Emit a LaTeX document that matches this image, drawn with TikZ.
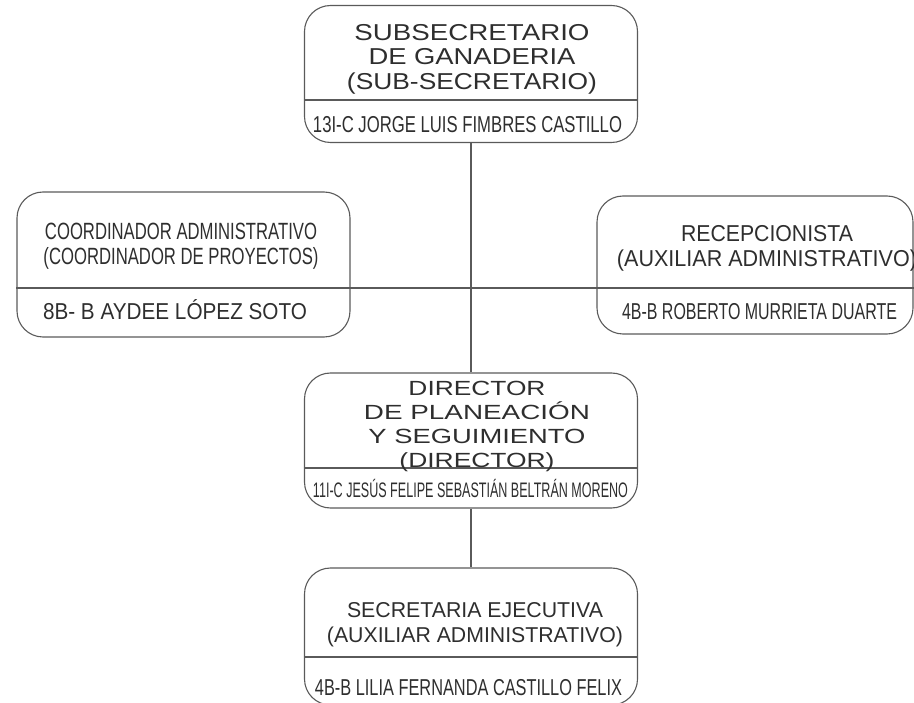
\documentclass[tikz,border=0pt]{standalone}
\usepackage{fontspec}
\setmainfont{Liberation Sans}
\usepackage{graphicx}
\usepackage{xcolor}
\usetikzlibrary{positioning}
\definecolor{linegray}{HTML}{5A5A5A}
\definecolor{inkgray}{HTML}{2E2E2E}
\newcommand{\fitto}[2]{\resizebox{#1pt}{\height}{#2}}
\tikzset{
	persona/.style = {
		anchor=base, inner sep=0pt, text=inkgray,
		font=\fontsize{23}{23}\selectfont
	}
}

\begin{document}
\begin{tikzpicture}[
		x=1pt, y=-1pt,
        box/.style = {draw=linegray, line width=1.1pt, rounded corners=26pt,
            minimum width=333pt, minimum height=137pt, inner sep=0pt},
        cargo/.style = {align=center, inner sep=0pt, text=inkgray,
            font=\fontsize{23}{24.5}\selectfont},
        edge/.style = {draw=linegray, line width=1.1pt}
    ]
    \useasboundingbox (0,0) rectangle (914,703);
    \clip (0,0) rectangle (914,703);

    \node[box] (sub) at (471,74) {};
    \node[box, minimum height=145pt] (crd) at (183.5,264.5) {};
    \node[box, minimum width=316pt, minimum height=138pt] (rec) at (755,265) {};
    \node[box, minimum height=135pt] (dir) at (471,440.5) {};
    \node[box] (sec) at (471,636.5) {};

    \draw[edge] (sub.west |- 0,100) -- (sub.east |- 0,100);
    \draw[edge] (dir.west |- 0,468) -- (dir.east |- 0,468);
    \draw[edge] (sec.west |- 0,657) -- (sec.east |- 0,657);
    \draw[edge] (crd.west |- 0,288) -- (rec.east |- 0,288);

    \draw[edge] (sub) -- (dir);
    \draw[edge] (dir) -- (sec);

    \node[cargo] (subT) at (472,59) {\fitto{235}{SUBSECRETARIO}\\ \fitto{207}{DE GANADERIA}\\ \fitto{250}{(SUB-SECRETARIO)}};
    \node[persona] (subN) at (467.5,133) {\fitto{309}{13I-C JORGE LUIS FIMBRES CASTILLO}};

    \node[cargo, font=\fontsize{23.5}{25}\selectfont] (crdT) at (181,246) {\fitto{272}{COORDINADOR ADMINISTRATIVO}\\ \fitto{275}{(COORDINADOR DE PROYECTOS)}};
    \node[persona] (crdN) at (175,320) {\fitto{264}{8B- B AYDEE LÓPEZ SOTO}};

    \node[cargo, font=\fontsize{23}{25}\selectfont] (recT) at (767,248) {\fitto{172}{RECEPCIONISTA}\\ \fitto{300}{(AUXILIAR ADMINISTRATIVO)}};
    \node[persona] (recN) at (759.5,320) {\fitto{275}{4B-B ROBERTO MURRIETA DUARTE}};

    \node[cargo, font=\fontsize{20.5}{24}\selectfont] (dirT) at (477,426) {\fitto{137}{DIRECTOR}\\ \fitto{226}{DE PLANEACIÓN}\\ \fitto{217}{Y SEGUIMIENTO}\\ \fitto{155}{(DIRECTOR)}};
    \node[persona, font=\fontsize{21}{21}\selectfont] (dirN) at (470.5,498) {\fitto{315}{11I-C JESÚS FELIPE SEBASTIÁN BELTRÁN MORENO}};

    \node[cargo, font=\fontsize{21.5}{25}\selectfont] (secT) at (475,625) {\fitto{256}{SECRETARIA EJECUTIVA}\\ \fitto{296}{(AUXILIAR ADMINISTRATIVO)}};
    \node[persona] (secN) at (468.5,695) {\fitto{307}{4B-B LILIA FERNANDA CASTILLO FELIX}};

\end{tikzpicture}
\end{document}
